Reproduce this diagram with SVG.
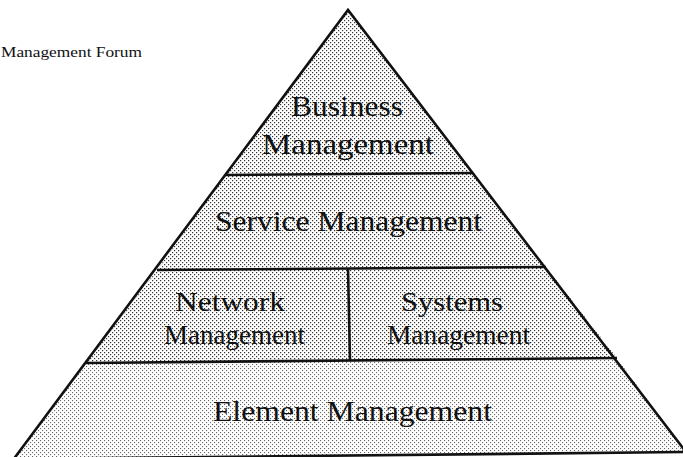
<svg xmlns="http://www.w3.org/2000/svg" width="683" height="457" viewBox="0 0 683 457">
<defs>
<pattern id="dots" width="4" height="4" patternUnits="userSpaceOnUse">
<rect width="4" height="4" fill="#ffffff"/>
<rect x="0" y="0" width="1.2" height="1.2" fill="#333"/>
<rect x="2" y="2" width="1.2" height="1.2" fill="#333"/>
</pattern>
<pattern id="dotsLight" width="4" height="4" patternUnits="userSpaceOnUse">
<rect width="4" height="4" fill="#ffffff"/>
<rect x="0" y="0" width="1.1" height="1.1" fill="#666"/>
<rect x="2" y="2" width="1.1" height="1.1" fill="#666"/>
</pattern>
<style>
.lbl{font-family:"Liberation Serif","Times New Roman",serif;fill:#111;}
.big{font-size:30px;}
.mid{font-size:27px;}
.ttl{font-family:"Liberation Serif","Times New Roman",serif;font-size:14px;fill:#111;}
.edge{fill:none;stroke:#111;stroke-width:2.6;stroke-linejoin:miter;stroke-linecap:butt;}
</style>
</defs>
<rect width="683" height="457" fill="#ffffff"/>
<text class="ttl" x="1" y="57" textLength="141" lengthAdjust="spacingAndGlyphs">Management Forum</text>
<g id="business">
<polygon points="348,10 472,173 225,175" fill="url(#dots)"/>
<text class="lbl big" x="291" y="116" textLength="112" lengthAdjust="spacingAndGlyphs">Business</text>
<text class="lbl big" x="262" y="154" textLength="172" lengthAdjust="spacingAndGlyphs">Management</text>
</g>
<g id="service">
<polygon points="225,175 472,173 546,267 157,270" fill="url(#dots)"/>
<text class="lbl big" x="215" y="231" textLength="267" lengthAdjust="spacingAndGlyphs">Service Management</text>
</g>
<g id="network">
<polygon points="157,270 348,268 350,361 86,363" fill="url(#dots)"/>
<text class="lbl mid" x="175" y="311" textLength="110" lengthAdjust="spacingAndGlyphs">Network</text>
<text class="lbl mid" x="164" y="344" textLength="141" lengthAdjust="spacingAndGlyphs">Management</text>
</g>
<g id="systems">
<polygon points="348,268 546,267 617,358 350,361" fill="url(#dots)"/>
<text class="lbl mid" x="401" y="311" textLength="102" lengthAdjust="spacingAndGlyphs">Systems</text>
<text class="lbl mid" x="387" y="344" textLength="143" lengthAdjust="spacingAndGlyphs">Management</text>
</g>
<g id="element">
<polygon points="86,363 617,358 686,452 13,460" fill="url(#dotsLight)"/>
<text class="lbl big" x="213" y="421" textLength="279" lengthAdjust="spacingAndGlyphs">Element Management</text>
</g>
<g id="connectors">
<polyline class="edge" points="13,460 348,10 686,452"/>
<line class="edge" x1="225" y1="175" x2="472" y2="173"/>
<line class="edge" x1="157" y1="270" x2="546" y2="267"/>
<line class="edge" x1="86" y1="363" x2="617" y2="358"/>
<line class="edge" x1="348" y1="268" x2="350" y2="361"/>
<line class="edge" x1="13" y1="459" x2="686" y2="452"/>
</g>
</svg>
